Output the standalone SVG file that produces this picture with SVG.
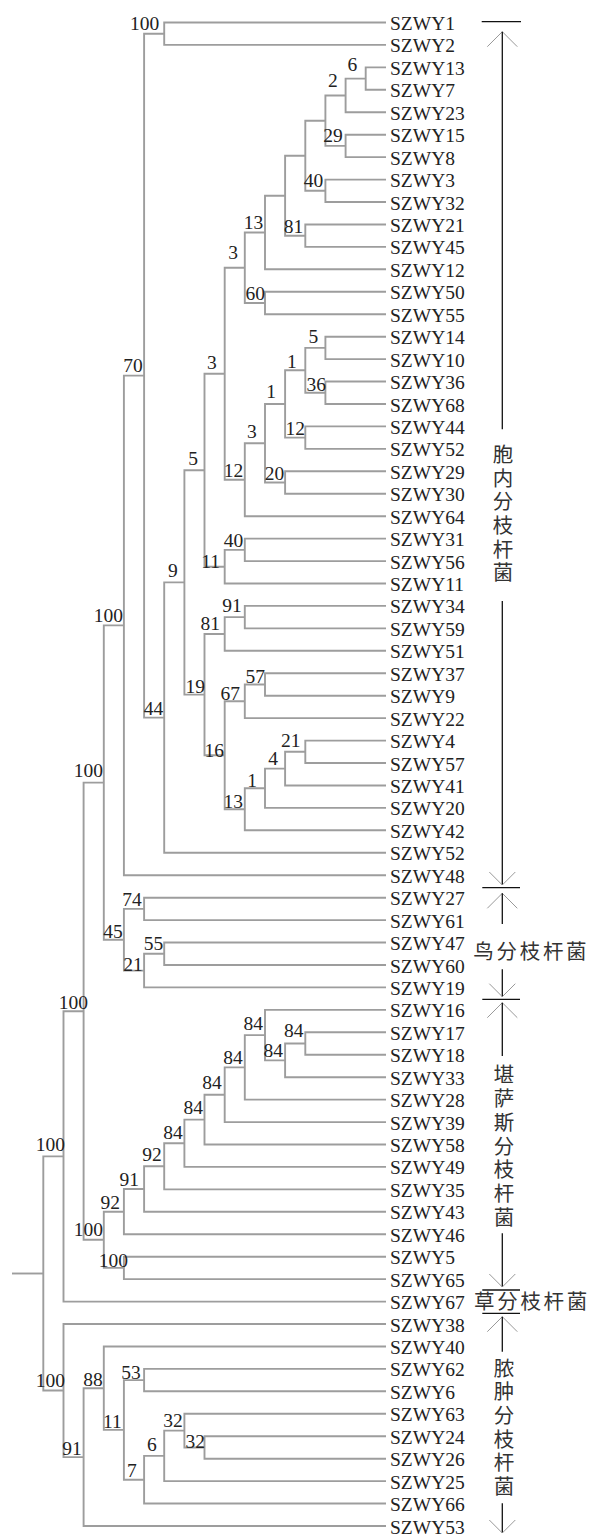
<svg xmlns="http://www.w3.org/2000/svg" xmlns:xlink="http://www.w3.org/1999/xlink" width="589" height="1535" viewBox="0 0 589 1535">
<style>
.br{fill:none;stroke:#9d9d9d;stroke-width:1.9}
.cap{stroke:#111;stroke-width:1.3}
.ah{fill:none;stroke:#999;stroke-width:1}
.cj{font-family:"Noto Sans CJK SC",sans-serif;font-size:20.5px;fill:#333}
.vt{writing-mode:vertical-rl;letter-spacing:3.2px}
</style>
<defs>
<path id="ahUp" class="ah" d="M-15,15 L0,0 L15,15"/>
<path id="ahDn" class="ah" d="M-13,-13 L0,0 L13,-13"/>
</defs>
<rect width="589" height="1535" fill="#fff"/>
<g id="connectors" class="br" fill="none" stroke="#9d9d9d" stroke-width="1.9">
<path d="M12 1273.5 H43.3"/>
<path d="M386 22.5 H164.2 V44.9 H386"/>
<path d="M386 67.4 H365.7 V89.8 H386"/>
<path d="M365.7 78.6 H345.6 V112.3 H386"/>
<path d="M386 134.7 H345.6 V157.1 H386"/>
<path d="M345.6 95.45 H325.4 V145.9 H345.6"/>
<path d="M386 179.6 H325.4 V202 H386"/>
<path d="M325.4 120.7 H305.3 V190.8 H325.4"/>
<path d="M386 224.5 H305.3 V246.9 H386"/>
<path d="M305.3 155.75 H285.1 V235.7 H305.3"/>
<path d="M285.1 195.7 H265 V269.3 H386"/>
<path d="M386 291.8 H265 V314.2 H386"/>
<path d="M265 232.5 H244.8 V303 H265"/>
<path d="M386 336.7 H325.4 V359.1 H386"/>
<path d="M386 381.5 H325.4 V404 H386"/>
<path d="M325.4 347.9 H305.3 V392.75 H325.4"/>
<path d="M386 426.4 H305.3 V448.9 H386"/>
<path d="M305.3 370.3 H285.1 V437.65 H305.3"/>
<path d="M386 471.3 H285.1 V493.7 H386"/>
<path d="M285.1 404 H265 V482.5 H285.1"/>
<path d="M265 443.25 H244.8 V516.2 H386"/>
<path d="M244.8 267.75 H224.7 V479.7 H244.8"/>
<path d="M386 538.6 H244.8 V561.1 H386"/>
<path d="M244.8 549.85 H224.7 V583.5 H386"/>
<path d="M224.7 373.7 H204.5 V566.7 H224.7"/>
<path d="M386 605.9 H244.8 V628.4 H386"/>
<path d="M244.8 617.15 H224.7 V650.8 H386"/>
<path d="M386 673.3 H265 V695.7 H386"/>
<path d="M265 684.5 H244.8 V718.1 H386"/>
<path d="M386 740.6 H305.3 V763 H386"/>
<path d="M305.3 751.8 H285.1 V785.5 H386"/>
<path d="M285.1 768.65 H265 V807.9 H386"/>
<path d="M265 788.3 H244.8 V830.3 H386"/>
<path d="M244.8 701.3 H224.7 V809.3 H244.8"/>
<path d="M224.7 634 H204.5 V755.3 H224.7"/>
<path d="M204.5 470.2 H184.4 V694.65 H204.5"/>
<path d="M184.4 582.4 H164.2 V852.8 H386"/>
<path d="M164.2 33.7 H144.1 V717.6 H164.2"/>
<path d="M144.1 375.65 H123.9 V875.2 H386"/>
<path d="M386 897.7 H144.1 V920.1 H386"/>
<path d="M386 942.5 H164.2 V965 H386"/>
<path d="M164.2 953.75 H144.1 V987.4 H386"/>
<path d="M144.1 908.9 H123.9 V970.6 H144.1"/>
<path d="M123.9 625.4 H103.8 V939.75 H123.9"/>
<path d="M386 1032.3 H305.3 V1054.7 H386"/>
<path d="M305.3 1043.5 H285.1 V1077.2 H386"/>
<path d="M386 1009.9 H265 V1060.35 H285.1"/>
<path d="M265 1035.1 H244.8 V1099.6 H386"/>
<path d="M244.8 1067.35 H224.7 V1122.1 H386"/>
<path d="M224.7 1094.7 H204.5 V1144.5 H386"/>
<path d="M204.5 1119.6 H184.4 V1166.9 H386"/>
<path d="M184.4 1143.25 H164.2 V1189.4 H386"/>
<path d="M164.2 1166.3 H144.1 V1211.8 H386"/>
<path d="M144.1 1189.05 H123.9 V1234.3 H386"/>
<path d="M386 1256.7 H123.9 V1279.1 H386"/>
<path d="M123.9 1211.7 H103.8 V1267.9 H123.9"/>
<path d="M103.8 782.6 H83.6 V1239.8 H103.8"/>
<path d="M83.6 1011.2 H63.5 V1301.6 H386"/>
<path d="M386 1368.9 H144.1 V1391.3 H386"/>
<path d="M386 1436.2 H204.5 V1458.7 H386"/>
<path d="M386 1413.8 H184.4 V1447.45 H204.5"/>
<path d="M184.4 1430.6 H164.2 V1481.1 H386"/>
<path d="M164.2 1455.85 H144.1 V1503.5 H386"/>
<path d="M144.1 1380.1 H123.9 V1479.7 H144.1"/>
<path d="M386 1346.5 H103.8 V1429.9 H123.9"/>
<path d="M103.8 1388.2 H83.6 V1526 H386"/>
<path d="M386 1324 H63.5 V1457.1 H83.6"/>
<path d="M63.5 1156.4 H43.3 V1390.55 H63.5"/>
</g>
<g id="bootstrap" font-family="'Liberation Serif','Times New Roman',serif" font-size="19.5" fill="#222" text-anchor="end">
<g id="n-1-2"><text x="159.3" y="30">100</text></g>
<g id="n-13-7"><text x="357.3" y="70.7">6</text></g>
<g id="n-13-23"><text x="337.7" y="87.3">2</text></g>
<g id="n-15-8"><text x="342.7" y="141.7">29</text></g>
<g id="n-3-32"><text x="323.3" y="187">40</text></g>
<g id="n-21-45"><text x="303.3" y="233">81</text></g>
<g id="n-13-12"><text x="263.3" y="229">13</text></g>
<g id="n-50-55"><text x="265" y="300">60</text></g>
<g id="n-13-55"><text x="238" y="259">3</text></g>
<g id="n-14-10"><text x="318.3" y="343">5</text></g>
<g id="n-36-68"><text x="326" y="391">36</text></g>
<g id="n-14-68"><text x="296.7" y="368.3">1</text></g>
<g id="n-44-52"><text x="305" y="435">12</text></g>
<g id="n-14-52"><text x="276" y="398">1</text></g>
<g id="n-29-30"><text x="284.3" y="480">20</text></g>
<g id="n-14-30"><text x="256.7" y="438">3</text></g>
<g id="n-14-64"><text x="243.3" y="477">12</text></g>
<g id="n-13-64"><text x="216.7" y="369">3</text></g>
<g id="n-31-56"><text x="243.3" y="547">40</text></g>
<g id="n-31-11"><text x="220" y="568">11</text></g>
<g id="n-13-11"><text x="198" y="465">5</text></g>
<g id="n-34-59"><text x="241.7" y="612">91</text></g>
<g id="n-34-51"><text x="220" y="630">81</text></g>
<g id="n-37-9"><text x="265" y="683">57</text></g>
<g id="n-37-22"><text x="240" y="700">67</text></g>
<g id="n-4-57"><text x="300.5" y="747">21</text></g>
<g id="n-4-41"><text x="278" y="765">4</text></g>
<g id="n-4-20"><text x="257" y="787">1</text></g>
<g id="n-4-42"><text x="243" y="808">13</text></g>
<g id="n-37-42"><text x="224" y="757">16</text></g>
<g id="n-34-42"><text x="205" y="693">19</text></g>
<g id="n-13-42"><text x="177.7" y="577">9</text></g>
<g id="n-13-52b"><text x="163.3" y="715">44</text></g>
<g id="n-1-52b"><text x="142.7" y="371.7">70</text></g>
<g id="n-1-48"><text x="123" y="622">100</text></g>
<g id="n-27-61"><text x="141.7" y="906">74</text></g>
<g id="n-47-60"><text x="163.3" y="950">55</text></g>
<g id="n-47-19"><text x="142.7" y="971">21</text></g>
<g id="n-27-19"><text x="122.7" y="938">45</text></g>
<g id="n-1-19"><text x="103" y="777">100</text></g>
<g id="n-17-18"><text x="303.5" y="1037">84</text></g>
<g id="n-17-33"><text x="283" y="1057">84</text></g>
<g id="n-16-33"><text x="263" y="1030">84</text></g>
<g id="n-16-28"><text x="242.7" y="1064">84</text></g>
<g id="n-16-39"><text x="221.7" y="1089">84</text></g>
<g id="n-16-58"><text x="203" y="1114">84</text></g>
<g id="n-16-49"><text x="182.7" y="1139">84</text></g>
<g id="n-16-35"><text x="161.7" y="1161">92</text></g>
<g id="n-16-43"><text x="139" y="1186">91</text></g>
<g id="n-16-46"><text x="120" y="1209">92</text></g>
<g id="n-5-65"><text x="128" y="1267">100</text></g>
<g id="n-16-65"><text x="103" y="1236">100</text></g>
<g id="n-1-65"><text x="88" y="1009">100</text></g>
<g id="n-1-67"><text x="65" y="1151">100</text></g>
<g id="n-62-6"><text x="140.7" y="1378.5">53</text></g>
<g id="n-24-26"><text x="205" y="1447.5">32</text></g>
<g id="n-63-26"><text x="182.7" y="1427">32</text></g>
<g id="n-63-25"><text x="156.7" y="1451">6</text></g>
<g id="n-63-66"><text x="136.7" y="1477">7</text></g>
<g id="n-62-66"><text x="121.7" y="1428">11</text></g>
<g id="n-40-66"><text x="102.7" y="1386">88</text></g>
<g id="n-40-53"><text x="81.7" y="1455">91</text></g>
<g id="n-38-53"><text x="65" y="1387">100</text></g>
</g>
<g id="leaves" font-family="'Liberation Serif','Times New Roman',serif" font-size="19.5" fill="#222">
<g id="leaf01"><text x="390" y="30">SZWY1</text></g>
<g id="leaf02"><text x="390" y="52.4">SZWY2</text></g>
<g id="leaf03"><text x="390" y="74.9">SZWY13</text></g>
<g id="leaf04"><text x="390" y="97.3">SZWY7</text></g>
<g id="leaf05"><text x="390" y="119.8">SZWY23</text></g>
<g id="leaf06"><text x="390" y="142.2">SZWY15</text></g>
<g id="leaf07"><text x="390" y="164.6">SZWY8</text></g>
<g id="leaf08"><text x="390" y="187.1">SZWY3</text></g>
<g id="leaf09"><text x="390" y="209.5">SZWY32</text></g>
<g id="leaf10"><text x="390" y="232">SZWY21</text></g>
<g id="leaf11"><text x="390" y="254.4">SZWY45</text></g>
<g id="leaf12"><text x="390" y="276.8">SZWY12</text></g>
<g id="leaf13"><text x="390" y="299.3">SZWY50</text></g>
<g id="leaf14"><text x="390" y="321.7">SZWY55</text></g>
<g id="leaf15"><text x="390" y="344.2">SZWY14</text></g>
<g id="leaf16"><text x="390" y="366.6">SZWY10</text></g>
<g id="leaf17"><text x="390" y="389">SZWY36</text></g>
<g id="leaf18"><text x="390" y="411.5">SZWY68</text></g>
<g id="leaf19"><text x="390" y="433.9">SZWY44</text></g>
<g id="leaf20"><text x="390" y="456.4">SZWY52</text></g>
<g id="leaf21"><text x="390" y="478.8">SZWY29</text></g>
<g id="leaf22"><text x="390" y="501.2">SZWY30</text></g>
<g id="leaf23"><text x="390" y="523.7">SZWY64</text></g>
<g id="leaf24"><text x="390" y="546.1">SZWY31</text></g>
<g id="leaf25"><text x="390" y="568.6">SZWY56</text></g>
<g id="leaf26"><text x="390" y="591">SZWY11</text></g>
<g id="leaf27"><text x="390" y="613.4">SZWY34</text></g>
<g id="leaf28"><text x="390" y="635.9">SZWY59</text></g>
<g id="leaf29"><text x="390" y="658.3">SZWY51</text></g>
<g id="leaf30"><text x="390" y="680.8">SZWY37</text></g>
<g id="leaf31"><text x="390" y="703.2">SZWY9</text></g>
<g id="leaf32"><text x="390" y="725.6">SZWY22</text></g>
<g id="leaf33"><text x="390" y="748.1">SZWY4</text></g>
<g id="leaf34"><text x="390" y="770.5">SZWY57</text></g>
<g id="leaf35"><text x="390" y="793">SZWY41</text></g>
<g id="leaf36"><text x="390" y="815.4">SZWY20</text></g>
<g id="leaf37"><text x="390" y="837.8">SZWY42</text></g>
<g id="leaf38"><text x="390" y="860.3">SZWY52</text></g>
<g id="leaf39"><text x="390" y="882.7">SZWY48</text></g>
<g id="leaf40"><text x="390" y="905.2">SZWY27</text></g>
<g id="leaf41"><text x="390" y="927.6">SZWY61</text></g>
<g id="leaf42"><text x="390" y="950">SZWY47</text></g>
<g id="leaf43"><text x="390" y="972.5">SZWY60</text></g>
<g id="leaf44"><text x="390" y="994.9">SZWY19</text></g>
<g id="leaf45"><text x="390" y="1017.4">SZWY16</text></g>
<g id="leaf46"><text x="390" y="1039.8">SZWY17</text></g>
<g id="leaf47"><text x="390" y="1062.2">SZWY18</text></g>
<g id="leaf48"><text x="390" y="1084.7">SZWY33</text></g>
<g id="leaf49"><text x="390" y="1107.1">SZWY28</text></g>
<g id="leaf50"><text x="390" y="1129.6">SZWY39</text></g>
<g id="leaf51"><text x="390" y="1152">SZWY58</text></g>
<g id="leaf52"><text x="390" y="1174.4">SZWY49</text></g>
<g id="leaf53"><text x="390" y="1196.9">SZWY35</text></g>
<g id="leaf54"><text x="390" y="1219.3">SZWY43</text></g>
<g id="leaf55"><text x="390" y="1241.8">SZWY46</text></g>
<g id="leaf56"><text x="390" y="1264.2">SZWY5</text></g>
<g id="leaf57"><text x="390" y="1286.6">SZWY65</text></g>
<g id="leaf58"><text x="390" y="1309.1">SZWY67</text></g>
<g id="leaf59"><text x="390" y="1331.5">SZWY38</text></g>
<g id="leaf60"><text x="390" y="1354">SZWY40</text></g>
<g id="leaf61"><text x="390" y="1376.4">SZWY62</text></g>
<g id="leaf62"><text x="390" y="1398.8">SZWY6</text></g>
<g id="leaf63"><text x="390" y="1421.3">SZWY63</text></g>
<g id="leaf64"><text x="390" y="1443.7">SZWY24</text></g>
<g id="leaf65"><text x="390" y="1466.2">SZWY26</text></g>
<g id="leaf66"><text x="390" y="1488.6">SZWY25</text></g>
<g id="leaf67"><text x="390" y="1511">SZWY66</text></g>
<g id="leaf68"><text x="390" y="1533.5">SZWY53</text></g>
</g>
<g id="clade-intracellulare">
<line class="cap" x1="481.7" y1="21.7" x2="521" y2="21.7"/>
<use xlink:href="#ahUp" x="502.3" y="31.7"/>
<line class="cap" x1="502.3" y1="31.7" x2="502.3" y2="429.3"/>
<text class="cj vt" x="503" y="443.8">胞内分枝杆菌</text>
<line class="cap" x1="502.3" y1="601" x2="502.3" y2="885"/>
<use xlink:href="#ahDn" x="502.3" y="885"/>
<line class="cap" x1="482.3" y1="887.7" x2="520" y2="887.7"/>
</g>
<g id="clade-avium">
<use xlink:href="#ahUp" x="502.3" y="893.3"/>
<line class="cap" x1="502.3" y1="893.3" x2="502.3" y2="924"/>
<text class="cj" x="473.3" y="958.5" letter-spacing="2.7">鸟分枝杆菌</text>
<line class="cap" x1="502.3" y1="969.3" x2="502.3" y2="996.7"/>
<use xlink:href="#ahDn" x="502.3" y="996.7"/>
<line class="cap" x1="482.3" y1="999.3" x2="520" y2="999.3"/>
</g>
<g id="clade-kansasii">
<use xlink:href="#ahUp" x="502.3" y="1002.7"/>
<line class="cap" x1="502.3" y1="1002.7" x2="502.3" y2="1056"/>
<text class="cj vt" x="504" y="1063.8" style="letter-spacing:3.4px">堪萨斯分枝杆菌</text>
<line class="cap" x1="502.3" y1="1233.3" x2="502.3" y2="1287"/>
<use xlink:href="#ahDn" x="502.3" y="1287"/>
<line class="cap" x1="482.3" y1="1290" x2="520" y2="1290"/>
</g>
<g id="clade-phlei">
<text class="cj" x="474" y="1309" letter-spacing="2.7">草分枝杆菌</text>
<line class="cap" x1="482.3" y1="1313.3" x2="520" y2="1313.3"/>
</g>
<g id="clade-abscessus">
<use xlink:href="#ahUp" x="502.3" y="1316.7"/>
<line class="cap" x1="502.3" y1="1316.7" x2="502.3" y2="1351.7"/>
<text class="cj vt" x="504" y="1357.6">脓肿分枝杆菌</text>
<line class="cap" x1="502.3" y1="1503.3" x2="502.3" y2="1533"/>
<use xlink:href="#ahDn" x="502.3" y="1533"/>
</g>
</svg>
